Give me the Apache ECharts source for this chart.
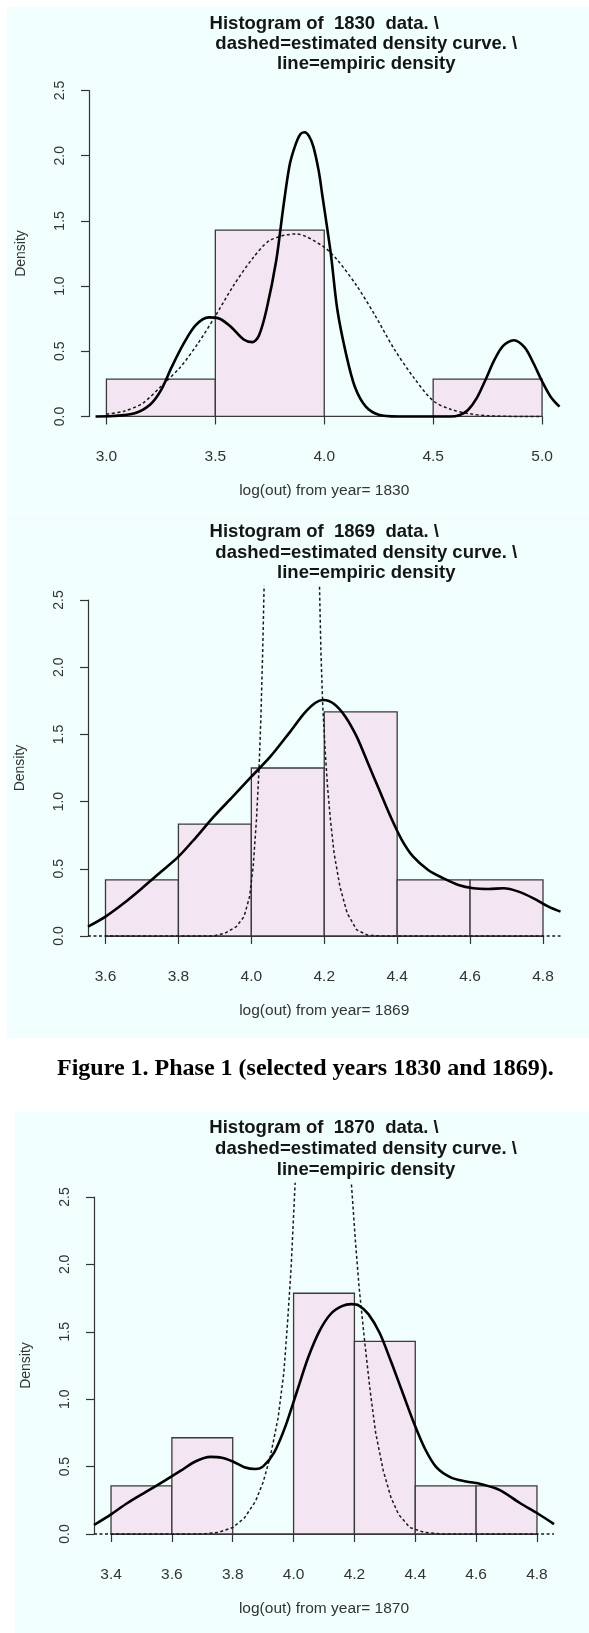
<!DOCTYPE html>
<html>
<head>
<meta charset="utf-8">
<script src="https://cdn.jsdelivr.net/npm/echarts@6/dist/echarts.min.js"></script>
</head>
<body style="margin:0;background:#fff">
<div id="container" style="width:589px;height:1633px"></div>
<script>
// ---- data ----
var years = ['1830', '1869', '1870'];

var breaks1830 = [3.0, 3.5, 4.0, 4.5, 5.0];
var density1830 = [0.286, 1.429, 0, 0.286];
var breaks1869 = [3.6, 3.8, 4.0, 4.2, 4.4, 4.6, 4.8];
var density1869 = [0.417, 0.833, 1.25, 1.667, 0.417, 0.417];
var breaks1870 = [3.4, 3.6, 3.8, 4.0, 4.2, 4.4, 4.6, 4.8];
var density1870 = [0.357, 0.714, 0, 1.786, 1.429, 0.357, 0.357];

var xTicks1830 = [3.0, 3.5, 4.0, 4.5, 5.0];
var xTicks1869 = [3.6, 3.8, 4.0, 4.2, 4.4, 4.6, 4.8];
var xTicks1870 = [3.4, 3.6, 3.8, 4.0, 4.2, 4.4, 4.6, 4.8];
var yTicks = [0, 0.5, 1.0, 1.5, 2.0, 2.5];

// solid = empiric density, dashed = estimated density curve
var empiric1830 = [[2.95,0],[3.03,0.003],[3.13,0.025],[3.2,0.09],[3.25,0.2],[3.3,0.38],[3.355,0.56],[3.41,0.7],[3.47,0.76],[3.52,0.75],[3.57,0.69],[3.63,0.59],[3.67,0.57],[3.7,0.62],[3.735,0.82],[3.78,1.2],[3.81,1.58],[3.84,1.92],[3.865,2.07],[3.89,2.165],[3.91,2.18],[3.93,2.15],[3.95,2.07],[3.975,1.88],[3.99,1.71],[4.03,1.25],[4.06,0.82],[4.1,0.48],[4.14,0.23],[4.19,0.077],[4.25,0.013],[4.34,0],[4.58,0],[4.62,0.01],[4.66,0.05],[4.7,0.14],[4.74,0.28],[4.78,0.43],[4.82,0.54],[4.87,0.585],[4.92,0.53],[4.96,0.41],[5.0,0.27],[5.04,0.15],[5.08,0.075]];
var estimated1830 = [[3.0,0.018],[3.08,0.04],[3.165,0.1],[3.25,0.23],[3.34,0.38],[3.42,0.56],[3.5,0.77],[3.58,0.995],[3.67,1.21],[3.75,1.35],[3.87,1.4],[3.99,1.31],[4.06,1.2],[4.15,1.0],[4.235,0.77],[4.32,0.52],[4.41,0.3],[4.5,0.12],[4.58,0.055],[4.67,0.02],[4.75,0.006],[4.91,0],[5.0,0]];

var empiric1869 = [[3.552,0.069],[3.6,0.144],[3.65,0.243],[3.7,0.355],[3.753,0.479],[3.8,0.59],[3.846,0.727],[3.897,0.888],[3.949,1.037],[4.0,1.185],[4.052,1.334],[4.103,1.508],[4.145,1.657],[4.176,1.736],[4.198,1.756],[4.227,1.726],[4.258,1.632],[4.289,1.483],[4.32,1.285],[4.351,1.086],[4.382,0.888],[4.413,0.714],[4.444,0.59],[4.485,0.491],[4.527,0.429],[4.568,0.379],[4.609,0.355],[4.65,0.35],[4.692,0.355],[4.733,0.33],[4.774,0.28],[4.815,0.218],[4.848,0.181]];
var estimated1869 = [[3.552,0],[3.897,0],[3.928,0.02],[3.959,0.07],[3.98,0.144],[3.995,0.29],[4.005,0.516],[4.014,0.863],[4.021,1.235],[4.026,1.607],[4.031,2.1],[4.035,2.6],[4.111,8.8],[4.187,2.6],[4.191,2.1],[4.196,1.706],[4.203,1.359],[4.209,1.111],[4.217,0.863],[4.227,0.615],[4.243,0.367],[4.263,0.169],[4.289,0.045],[4.32,0.005],[4.36,0],[4.848,0]];

var empiric1870 = [[3.344,0.067],[3.4,0.146],[3.454,0.23],[3.516,0.314],[3.578,0.398],[3.628,0.468],[3.677,0.538],[3.727,0.572],[3.764,0.566],[3.8,0.538],[3.838,0.496],[3.875,0.482],[3.9,0.502],[3.937,0.608],[3.974,0.804],[4.011,1.057],[4.048,1.309],[4.085,1.505],[4.122,1.632],[4.159,1.69],[4.19,1.705],[4.215,1.695],[4.246,1.631],[4.283,1.491],[4.32,1.281],[4.357,1.057],[4.394,0.832],[4.431,0.636],[4.469,0.496],[4.518,0.418],[4.567,0.39],[4.617,0.37],[4.678,0.326],[4.744,0.23],[4.8,0.156],[4.856,0.074]];
var estimated1870 = [[3.344,0],[3.702,0],[3.751,0.011],[3.8,0.048],[3.838,0.118],[3.875,0.244],[3.9,0.384],[3.924,0.58],[3.949,0.86],[3.968,1.197],[3.98,1.561],[3.992,1.98],[4.005,2.6],[4.097,5.5],[4.19,2.6],[4.203,2.18],[4.215,1.84],[4.234,1.42],[4.252,1.057],[4.27,0.748],[4.295,0.468],[4.32,0.272],[4.345,0.146],[4.382,0.048],[4.431,0.011],[4.493,0],[4.856,0]];

var titleLines = ['Histogram of  {y}  data. \\', 'dashed=estimated density curve. \\', 'line=empiric density'];
var caption = 'Figure 1. Phase 1 (selected years 1830 and 1869).';

var panels = [
    {year: years[0], breaks: breaks1830, dens: density1830, xTicks: xTicks1830, step: 0.5, solid: empiric1830, dashed: estimated1830},
    {year: years[1], breaks: breaks1869, dens: density1869, xTicks: xTicks1869, step: 0.2, solid: empiric1869, dashed: estimated1869},
    {year: years[2], breaks: breaks1870, dens: density1870, xTicks: xTicks1870, step: 0.2, solid: empiric1870, dashed: estimated1870}
];

// ---- page layout (pixels) ----
var layout = [
    {bg: [7, 7, 582, 506.5], plot: [89, 77.5, 559.5, 429.5], titleY: [23.5, 43.5, 63.5]},
    {bg: [7, 514.5, 582, 523.5], plot: [88, 586.6, 560.5, 949.4], titleY: [532, 552.5, 573]},
    {bg: [15, 1112, 574, 521], plot: [94, 1183.5, 554, 1547.5], titleY: [1128, 1148.5, 1169.5]}
];

var SANS = '"Liberation Sans", Arial, sans-serif';
var myChart = echarts.init(document.getElementById('container'));
var option = {animation: false, grid: [], xAxis: [], yAxis: [], series: [], graphic: []};

function renderBar(params, api) {
    var p0 = api.coord([api.value(0), api.value(2)]);
    var p1 = api.coord([api.value(1), 0]);
    return {
        type: 'rect',
        shape: {x: p0[0], y: p0[1], width: p1[0] - p0[0], height: p1[1] - p0[1]},
        style: {fill: '#f3e5f1', stroke: '#3a3a3a', lineWidth: 1.3}
    };
}

panels.forEach(function (p, i) {
    var L = layout[i];
    var x0 = p.xTicks[0], x1 = p.xTicks[p.xTicks.length - 1];
    var y0 = yTicks[0], y1 = yTicks[yTicks.length - 1];
    var ux = [x0 - 0.04 * (x1 - x0), x1 + 0.04 * (x1 - x0)];
    var uy = [y0 - 0.04 * (y1 - y0), y1 + 0.04 * (y1 - y0)];
    var sx = (L.plot[2] - L.plot[0]) / (ux[1] - ux[0]);
    var sy = (L.plot[3] - L.plot[1]) / (uy[1] - uy[0]);
    var gl = L.plot[0] + (x0 - ux[0]) * sx, gr = L.plot[0] + (x1 - ux[0]) * sx;
    var gt = L.plot[1] + (uy[1] - y1) * sy, gb = L.plot[1] + (uy[1] - y0) * sy;

    option.graphic.push({type: 'rect', z: -10, shape: {x: L.bg[0], y: L.bg[1], width: L.bg[2], height: L.bg[3]}, style: {fill: '#f0fefe'}});
    var cx = (L.plot[0] + L.plot[2]) / 2;
    titleLines.forEach(function (t, k) {
        option.graphic.push({type: 'text', x: k === 0 ? cx : cx + 42, y: L.titleY[k], style: {
            text: t.replace('{y}', p.year), font: 'bold 18.5px ' + SANS, fill: '#151515',
            textAlign: 'center', textVerticalAlign: 'middle', align: 'center', verticalAlign: 'middle'}});
    });

    // axes grid (R style axes spanning the tick range only)
    option.grid.push({left: gl, top: gt, width: gr - gl, height: gb - gt});
    // data grid (whole plot region)
    option.grid.push({left: L.plot[0], top: L.plot[1], width: L.plot[2] - L.plot[0], height: L.plot[3] - L.plot[1]});

    option.xAxis.push({
        gridIndex: 2 * i, type: 'value', min: x0, max: x1, interval: p.step, offset: L.plot[3] - gb,
        axisLine: {lineStyle: {color: '#333', width: 1.2}},
        axisTick: {length: 8, lineStyle: {color: '#333', width: 1.2}},
        splitLine: {show: false},
        axisLabel: {margin: 19, color: '#333', fontSize: 15.5, fontFamily: SANS, formatter: function (v) { return v.toFixed(1); }},
        name: 'log(out) from year= ' + p.year, nameLocation: 'middle', nameGap: 53,
        nameTextStyle: {color: '#333', fontSize: 15.5, fontFamily: SANS}
    });
    option.yAxis.push({
        gridIndex: 2 * i, type: 'value', min: y0, max: y1, interval: 0.5, offset: gl - L.plot[0],
        axisLine: {show: true, lineStyle: {color: '#333', width: 1.2}},
        axisTick: {show: true, length: 8, lineStyle: {color: '#333', width: 1.2}},
        splitLine: {show: false},
        axisLabel: {rotate: 90, margin: 22, color: '#333', fontSize: 14, fontFamily: SANS, formatter: function (v) { return v.toFixed(1); }},
        name: 'Density', nameLocation: 'middle', nameGap: 61,
        nameTextStyle: {color: '#333', fontSize: 14, fontFamily: SANS}
    });
    option.xAxis.push({gridIndex: 2 * i + 1, type: 'value', min: ux[0], max: ux[1], show: false});
    option.yAxis.push({gridIndex: 2 * i + 1, type: 'value', min: uy[0], max: uy[1], show: false});

    var bins = p.dens.map(function (d, k) { return [p.breaks[k], p.breaks[k + 1], d]; });
    option.series.push({
        type: 'custom', xAxisIndex: 2 * i + 1, yAxisIndex: 2 * i + 1,
        data: bins, encode: {x: [0, 1], y: 2}, renderItem: renderBar, silent: true
    });
    option.series.push({
        type: 'line', xAxisIndex: 2 * i + 1, yAxisIndex: 2 * i + 1, data: p.dashed,
        symbol: 'none', smooth: i === 0 ? 0.3 : false, clip: true,
        lineStyle: {color: '#1a1a1a', width: 1.5, type: [3, 2.5]}
    });
    option.series.push({
        type: 'line', xAxisIndex: 2 * i + 1, yAxisIndex: 2 * i + 1, data: p.solid,
        symbol: 'none', smooth: 0.3, clip: true,
        lineStyle: {color: '#000', width: 2.6}
    });
});

option.graphic.push({type: 'text', x: 57, y: 1068.5, style: {
    text: caption, font: 'bold 24px "Liberation Serif", "Times New Roman", serif', fill: '#000',
    textAlign: 'left', textVerticalAlign: 'middle', align: 'left', verticalAlign: 'middle'}});

myChart.setOption(option);
</script>
</body>
</html>
